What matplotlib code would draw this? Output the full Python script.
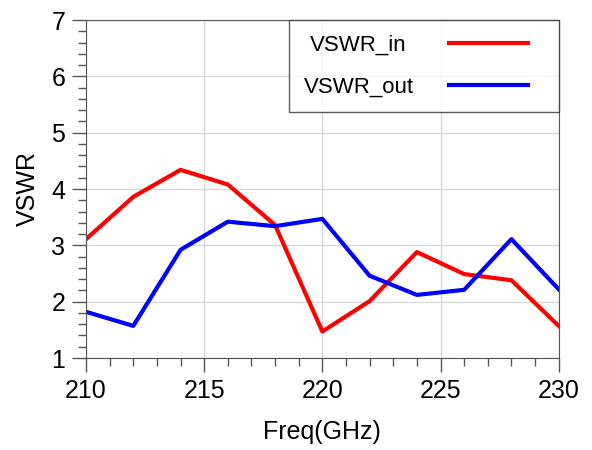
import matplotlib
matplotlib.use('Agg')
import matplotlib.pyplot as plt
from matplotlib.ticker import MultipleLocator
from matplotlib.legend_handler import HandlerLine2D

freq = [210, 212, 214, 216, 218, 220, 222, 224, 226, 228, 230]
vswr_in = [3.11, 3.86, 4.34, 4.08, 3.36, 1.47, 2.01, 2.88, 2.49, 2.38, 1.57]
vswr_out = [1.82, 1.57, 2.92, 3.42, 3.34, 3.47, 2.46, 2.12, 2.21, 3.11, 2.22]


class ShortLine(HandlerLine2D):
    # legend line only fills the left part of the handle box
    def create_artists(self, legend, orig_handle, xdescent, ydescent,
                       width, height, fontsize, trans):
        return super().create_artists(legend, orig_handle, xdescent, ydescent,
                                      width * 0.83, height, fontsize, trans)


plt.rcParams['font.family'] = ['Liberation Sans', 'DejaVu Sans']

fig = plt.figure(figsize=(5.92, 4.5), dpi=100)
ax = fig.add_axes([86 / 592, 1 - 358 / 450, (558.7 - 86) / 592, (358 - 20) / 450])

l1, = ax.plot(freq, vswr_in, color='#ff0000', lw=3, label='VSWR_in')
l2, = ax.plot(freq, vswr_out, color='#0000ff', lw=3, label='VSWR_out')

ax.set_xlim(210, 230)
ax.set_ylim(1, 7)
ax.xaxis.set_major_locator(MultipleLocator(5))
ax.xaxis.set_minor_locator(MultipleLocator(1))
ax.yaxis.set_major_locator(MultipleLocator(1))
ax.yaxis.set_minor_locator(MultipleLocator(0.2))
ax.grid(True, which='major', color='#d9d9d9', lw=1)
ax.set_axisbelow(True)
ax.tick_params(which='major', length=10, width=1, color='#555555', labelsize=18, pad=5)
ax.tick_params(which='minor', length=6, width=1, color='#555555')
for s in ax.spines.values():
    s.set_color('#555555')

ax.set_xlabel('Freq(GHz)', fontsize=18, labelpad=12)
ax.set_ylabel('VSWR', fontsize=18, labelpad=8)

leg = ax.legend(loc='upper right', fontsize=16, frameon=True, fancybox=False,
                edgecolor='#333333', markerfirst=False, handlelength=4.28,
                borderaxespad=0, borderpad=0.65, labelspacing=0.95,
                handletextpad=1.6,
                handler_map={l1: ShortLine(), l2: ShortLine()})
leg.get_frame().set_linewidth(1)

# center the legend labels on each other
fig.canvas.draw()
texts = leg.get_texts()
widths = [t.get_window_extent().width for t in texts]
for t, w in zip(texts, widths):
    t.set_x(-(max(widths) - w) / 2)

fig.savefig('out.png', dpi=100, facecolor='white')
